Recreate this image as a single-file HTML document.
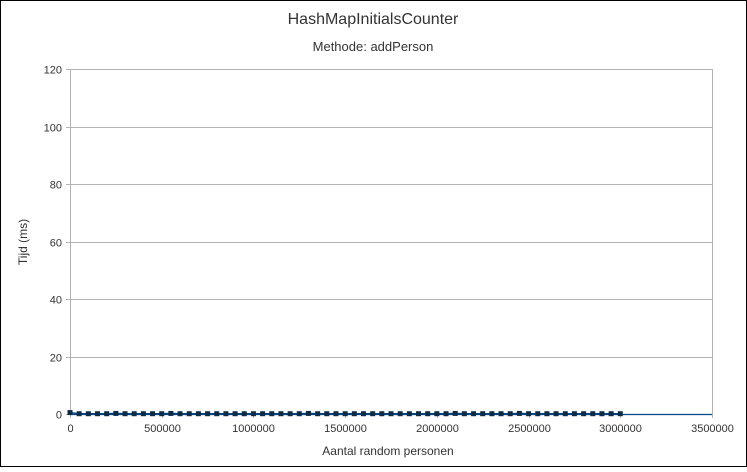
<!DOCTYPE html>
<html><head><meta charset="utf-8"><style>
html,body{margin:0;padding:0;background:#fff;}
body{width:747px;height:467px;overflow:hidden;}
svg text{font-family:"Liberation Sans",sans-serif;}
</style></head><body>
<svg id="chart" width="747" height="467" viewBox="0 0 747 467" xmlns="http://www.w3.org/2000/svg">
<rect x="0.5" y="0.5" width="746" height="466" fill="#fff" stroke="#000" stroke-width="1"/>
<text x="373" y="24" text-anchor="middle" font-size="16" fill="#333">HashMapInitialsCounter</text>
<text x="373" y="51" text-anchor="middle" font-size="13" fill="#333">Methode: addPerson</text>
<text x="388" y="455" text-anchor="middle" font-size="12" fill="#333">Aantal random personen</text>
<text transform="translate(27,242) rotate(-90)" text-anchor="middle" font-size="12" fill="#333">Tijd (ms)</text>
<g id="grid"></g><g id="axes"></g><g id="series"></g>
</svg>
<script>
const yTicks=[0,20,40,60,80,100,120];
const xTicks=[0,500000,1000000,1500000,2000000,2500000,3000000,3500000];
const xValues=[0,50000,100000,150000,200000,250000,300000,350000,400000,450000,500000,550000,600000,650000,700000,750000,800000,850000,900000,950000,1000000,1050000,1100000,1150000,1200000,1250000,1300000,1350000,1400000,1450000,1500000,1550000,1600000,1650000,1700000,1750000,1800000,1850000,1900000,1950000,2000000,2050000,2100000,2150000,2200000,2250000,2300000,2350000,2400000,2450000,2500000,2550000,2600000,2650000,2700000,2750000,2800000,2850000,2900000,2950000,3000000];
const yValues=[0.5,0.1,0.1,0.1,0.1,0.2,0.1,0.1,0.1,0.1,0.1,0.2,0.1,0.1,0.1,0.1,0.1,0.1,0.1,0.1,0.1,0.1,0.1,0.1,0.1,0.1,0.2,0.1,0.1,0.1,0.1,0.1,0.1,0.1,0.1,0.1,0.1,0.1,0.1,0.1,0.1,0.1,0.2,0.1,0.1,0.1,0.1,0.1,0.1,0.2,0.1,0.1,0.1,0.1,0.1,0.1,0.1,0.1,0.1,0.1,0.1];
const X0=70,X1=712,Y0=414,Y1=69;
const xs=v=>X0+(v-0)/(3500000-0)*(X1-X0);
const ys=v=>Y0-(v-0)/(120-0)*(Y0-Y1);
const NS="http://www.w3.org/2000/svg";
function mk(tag,parent,attrs){const e=document.createElementNS(NS,tag);for(const k in attrs)e.setAttribute(k,attrs[k]);parent.appendChild(e);return e;}
const grid=document.getElementById('grid'),axes=document.getElementById('axes'),series=document.getElementById('series');
yTicks.forEach(t=>{
 const y=Math.round(ys(t))+0.5;
 const g=mk('line',grid,{x1:66,x2:X1,y1:y,y2:y,stroke:'#b3b3b3','stroke-width':1});
 
 
 const l=mk('text',axes,{x:62,y:y+4,'text-anchor':'end','font-size':11,fill:'#333'});
 l.textContent=t;
 
 
});
const la=mk('line',grid,{x1:X0+0.5,x2:X0+0.5,y1:Y1,y2:Y0+4,stroke:'#b3b3b3','stroke-width':1});


const ra=mk('line',grid,{x1:X1+0.5,x2:X1+0.5,y1:Y1,y2:Y0+4,stroke:'#b3b3b3','stroke-width':1});


xTicks.forEach(t=>{
 const x=Math.round(xs(t))+0.5;
 const g=mk('line',grid,{x1:x,x2:x,y1:Y0,y2:Y0+4,stroke:'#b3b3b3','stroke-width':1});
 
 
 const l=mk('text',axes,{x:x,y:432,'text-anchor':'middle','font-size':11,fill:'#333'});
 l.textContent=t;
 
 
});
const ax=mk('line',axes,{x1:X0,x2:X1,y1:Y0+0.5,y2:Y0+0.5,stroke:'#004586','stroke-width':1.2});


const pts=xValues.map((v,i)=>xs(v).toFixed(1)+','+ys(yValues[i]).toFixed(1)).join(' ');
const pl=mk('polyline',series,{points:pts,fill:'none',stroke:'#004586','stroke-width':1.5});


xValues.forEach((v,i)=>{
 const r=mk('rect',series,{x:xs(v)-2.5,y:ys(yValues[i])-2.5,width:5,height:5,fill:'#0f2a44'});
 
 
});
</script>
</body></html>
